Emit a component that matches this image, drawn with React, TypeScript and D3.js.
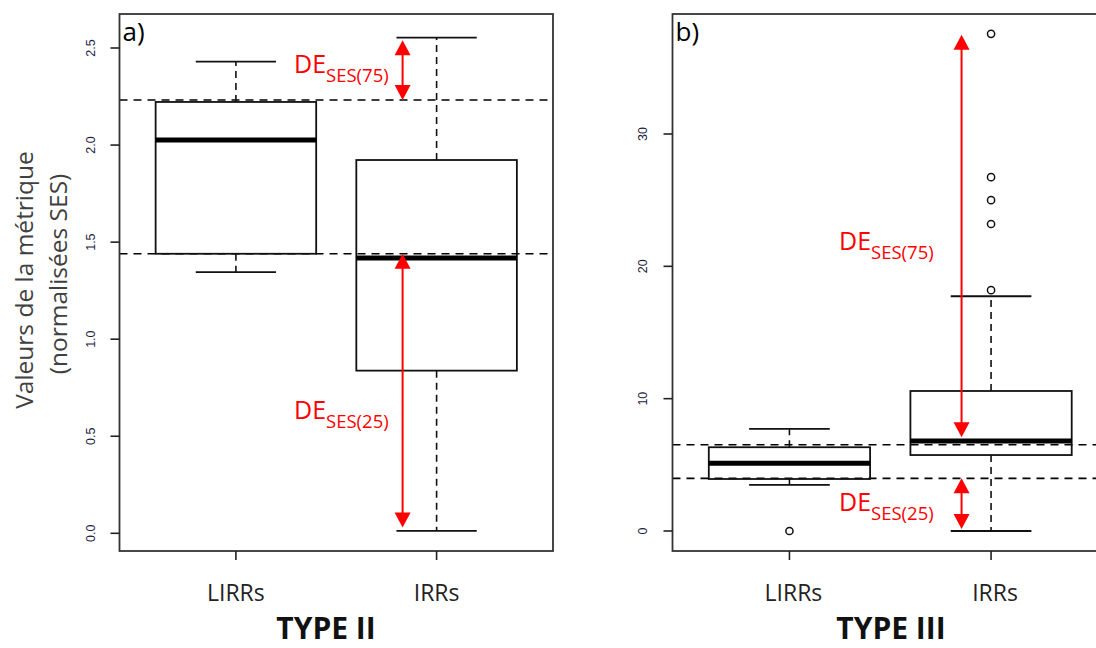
import React from "react";
import * as d3 from "d3";

// ---------- data ----------
const categories = ["LIRRs", "IRRs"];

// Panel a) TYPE II
const typeIIWhiskerLow = [1.345, 0.012];
const typeIIQ1 = [1.44, 0.838];
const typeIIMedian = [2.026, 1.418];
const typeIIQ3 = [2.222, 1.923];
const typeIIWhiskerHigh = [2.43, 2.553];
const typeIIOutliers: number[][] = [[], []];
const typeIITicks = [0, 0.5, 1, 1.5, 2, 2.5];
const typeIITickLabels = ["0.0", "0.5", "1.0", "1.5", "2.0", "2.5"];
const typeIIRefLines = [1.44, 2.232];
const typeIIArrowFrom = [2.232, 1.44];
const typeIIArrowTo = [2.54, 0.03];
const typeIIArrowLabelAt = [2.37, 0.59];
const arrowSubs = ["SES(75)", "SES(25)"];

// Panel b) TYPE III
const typeIIIWhiskerLow = [3.48, 0.0];
const typeIIIQ1 = [3.93, 5.74];
const typeIIIMedian = [5.12, 6.8];
const typeIIIQ3 = [6.33, 10.58];
const typeIIIWhiskerHigh = [7.71, 17.74];
const typeIIIOutliers: number[][] = [[0.0], [18.2, 23.2, 25.0, 26.74, 37.57]];
const typeIIITicks = [0, 10, 20, 30];
const typeIIITickLabels = ["0", "10", "20", "30"];
const typeIIIRefLines = [3.98, 6.52];
const typeIIIArrowFrom = [7.08, 3.98];
const typeIIIArrowTo = [37.5, 0.15];
const typeIIIArrowLabelAt = [21.24, 1.51];

const yTitle1 = "Valeurs de la métrique";
const yTitle2 = "(normalisées SES)";

// ---------- layout ----------
const W = 1096;
const H = 648;
const FONT = "'Open Sans', 'Noto Sans', sans-serif";

type Panel = {
  letter: string;
  title: string;
  left: number;
  right: number;
  top: number;
  bottom: number;
  yDomain: [number, number];
  yRange: [number, number];
  tickLabelX: number;
  arrowOffset: number;
  labelX: number;
  titleX: number;
  catLabelShift: number;
  whiskerLow: number[];
  q1: number[];
  median: number[];
  q3: number[];
  whiskerHigh: number[];
  outliers: number[][];
  ticks: number[];
  tickLabels: string[];
  refLines: number[];
  arrowFrom: number[];
  arrowTo: number[];
  arrowLabelAt: number[];
};

const panels: Panel[] = [
  {
    letter: "a)",
    title: "TYPE II",
    left: 119.5,
    right: 553,
    top: 14,
    bottom: 551,
    yDomain: [0, 2.5],
    yRange: [533.3, 48],
    tickLabelX: 91,
    arrowOffset: -34,
    labelX: 294,
    titleX: 326,
    catLabelShift: 0,
    whiskerLow: typeIIWhiskerLow,
    q1: typeIIQ1,
    median: typeIIMedian,
    q3: typeIIQ3,
    whiskerHigh: typeIIWhiskerHigh,
    outliers: typeIIOutliers,
    ticks: typeIITicks,
    tickLabels: typeIITickLabels,
    refLines: typeIIRefLines,
    arrowFrom: typeIIArrowFrom,
    arrowTo: typeIIArrowTo,
    arrowLabelAt: typeIIArrowLabelAt,
  },
  {
    letter: "b)",
    title: "TYPE III",
    left: 672.5,
    right: 1108,
    top: 14,
    bottom: 551,
    yDomain: [0, 30],
    yRange: [531, 134],
    tickLabelX: 643,
    arrowOffset: -29.5,
    labelX: 839,
    titleX: 891,
    catLabelShift: 4,
    whiskerLow: typeIIIWhiskerLow,
    q1: typeIIIQ1,
    median: typeIIIMedian,
    q3: typeIIIQ3,
    whiskerHigh: typeIIIWhiskerHigh,
    outliers: typeIIIOutliers,
    ticks: typeIIITicks,
    tickLabels: typeIIITickLabels,
    refLines: typeIIIRefLines,
    arrowFrom: typeIIIArrowFrom,
    arrowTo: typeIIIArrowTo,
    arrowLabelAt: typeIIIArrowLabelAt,
  },
];

function Arrow({ x, y1, y2 }: { x: number; y1: number; y2: number }) {
  const hw = 8;
  const hl = 15;
  const top = Math.min(y1, y2);
  const bot = Math.max(y1, y2);
  return (
    <g fill="#ff0000" stroke="none">
      <line x1={x} x2={x} y1={top + hl - 2} y2={bot - hl + 2} stroke="#ff0000" strokeWidth={2} />
      <path d={`M${x},${top} L${x - hw},${top + hl} L${x + hw},${top + hl} Z`} />
      <path d={`M${x},${bot} L${x - hw},${bot - hl} L${x + hw},${bot - hl} Z`} />
    </g>
  );
}

function PanelView({ p }: { p: Panel }) {
  const x = d3.scaleLinear().domain([0.42, 2.58]).range([p.left, p.right]);
  const y = d3.scaleLinear().domain(p.yDomain).range(p.yRange);
  const unit = x(2) - x(1);
  const boxW = unit * 0.8;
  const capW = boxW * 0.5;
  const irrsX = x(2);
  return (
    <g>
      <defs>
        <clipPath id={`clip-${p.letter[0]}`}>
          <rect x={p.left} y={p.top} width={p.right - p.left} height={p.bottom - p.top} />
        </clipPath>
      </defs>
      {/* reference dashed lines */}
      <g clipPath={`url(#clip-${p.letter[0]})`}>
        {p.refLines.map((v, i) => (
          <line
            key={i}
            x1={p.left}
            x2={p.right}
            y1={y(v)}
            y2={y(v)}
            stroke="#000"
            strokeWidth={1.6}
            strokeDasharray="8,6"
          />
        ))}
      </g>
      {/* boxes */}
      {categories.map((c, i) => {
        const cx = x(i + 1);
        return (
          <g key={c}>
            <line
              x1={cx}
              x2={cx}
              y1={y(p.q3[i])}
              y2={y(p.whiskerHigh[i])}
              stroke="#111"
              strokeWidth={1.6}
              strokeDasharray="7,5"
            />
            <line
              x1={cx}
              x2={cx}
              y1={y(p.q1[i])}
              y2={y(p.whiskerLow[i])}
              stroke="#111"
              strokeWidth={1.6}
              strokeDasharray="7,5"
            />
            <line
              x1={cx - capW / 2}
              x2={cx + capW / 2}
              y1={y(p.whiskerHigh[i])}
              y2={y(p.whiskerHigh[i])}
              stroke="#111"
              strokeWidth={1.8}
            />
            <line
              x1={cx - capW / 2}
              x2={cx + capW / 2}
              y1={y(p.whiskerLow[i])}
              y2={y(p.whiskerLow[i])}
              stroke="#111"
              strokeWidth={1.8}
            />
            <rect
              x={cx - boxW / 2}
              y={y(p.q3[i])}
              width={boxW}
              height={y(p.q1[i]) - y(p.q3[i])}
              fill="none"
              stroke="#111"
              strokeWidth={1.8}
            />
            <line
              x1={cx - boxW / 2}
              x2={cx + boxW / 2}
              y1={y(p.median[i])}
              y2={y(p.median[i])}
              stroke="#000"
              strokeWidth={5}
            />
            {p.outliers[i].map((o, k) => (
              <circle key={k} cx={cx} cy={y(o)} r={3.6} fill="none" stroke="#111" strokeWidth={1.5} />
            ))}
          </g>
        );
      })}
      {/* frame */}
      <rect
        x={p.left}
        y={p.top}
        width={p.right - p.left}
        height={p.bottom - p.top}
        fill="none"
        stroke="#333"
        strokeWidth={1.8}
      />
      {/* y axis */}
      {p.ticks.map((t, i) => (
        <g key={t}>
          <line x1={p.left - 9} x2={p.left} y1={y(t)} y2={y(t)} stroke="#222" strokeWidth={1.6} />
          <text
            transform={`translate(${p.tickLabelX},${y(t)}) rotate(-90)`}
            textAnchor="middle"
            dominantBaseline="central"
            fontFamily="'Liberation Sans', Arial, sans-serif"
            fontSize={12.5}
            fill="#1c2040"
          >
            {p.tickLabels[i]}
          </text>
        </g>
      ))}
      {/* x axis */}
      {categories.map((c, i) => (
        <g key={c}>
          <line x1={x(i + 1)} x2={x(i + 1)} y1={p.bottom} y2={p.bottom + 9} stroke="#222" strokeWidth={1.6} />
          <text
            x={x(i + 1) + p.catLabelShift}
            y={601}
            textAnchor="middle"
            fontFamily={FONT}
            fontSize={23}
            fill="#222"
          >
            {c}
          </text>
        </g>
      ))}
      <text
        x={p.titleX}
        y={639}
        textAnchor="middle"
        fontFamily={FONT}
        fontWeight="bold"
        fontSize={30}
        fill="#111"
      >
        {p.title}
      </text>
      <text x={p.left + 3} y={41} fontFamily={FONT} fontSize={26} fill="#000">
        {p.letter}
      </text>
      {/* annotations */}
      {p.arrowFrom.map((f, i) => (
        <g key={i}>
          <Arrow x={irrsX + p.arrowOffset} y1={y(f)} y2={y(p.arrowTo[i])} />
          <text x={p.labelX} y={y(p.arrowLabelAt[i])} fontFamily={FONT} fill="#ff0000" fontSize={25}>
            DE
            <tspan fontSize={18.5} dy={9}>
              {arrowSubs[i]}
            </tspan>
          </text>
        </g>
      ))}
    </g>
  );
}

export default function App() {
  return (
    <svg
      width={W}
      height={H}
      viewBox={`0 0 ${W} ${H}`}
      style={{ position: "absolute", left: 0, top: 0, background: "#fff" }}
    >
      <rect x={0} y={0} width={W} height={H} fill="#fff" />
      {panels.map((p) => (
        <PanelView key={p.letter} p={p} />
      ))}
      <text
        transform="translate(23,280) rotate(-90)"
        textAnchor="middle"
        dominantBaseline="central"
        fontFamily={FONT}
        fontSize={24.5}
        fill="#404040"
      >
        {yTitle1}
      </text>
      <text
        transform="translate(57,274) rotate(-90)"
        textAnchor="middle"
        dominantBaseline="central"
        fontFamily={FONT}
        fontSize={24.5}
        fill="#404040"
      >
        {yTitle2}
      </text>
    </svg>
  );
}
